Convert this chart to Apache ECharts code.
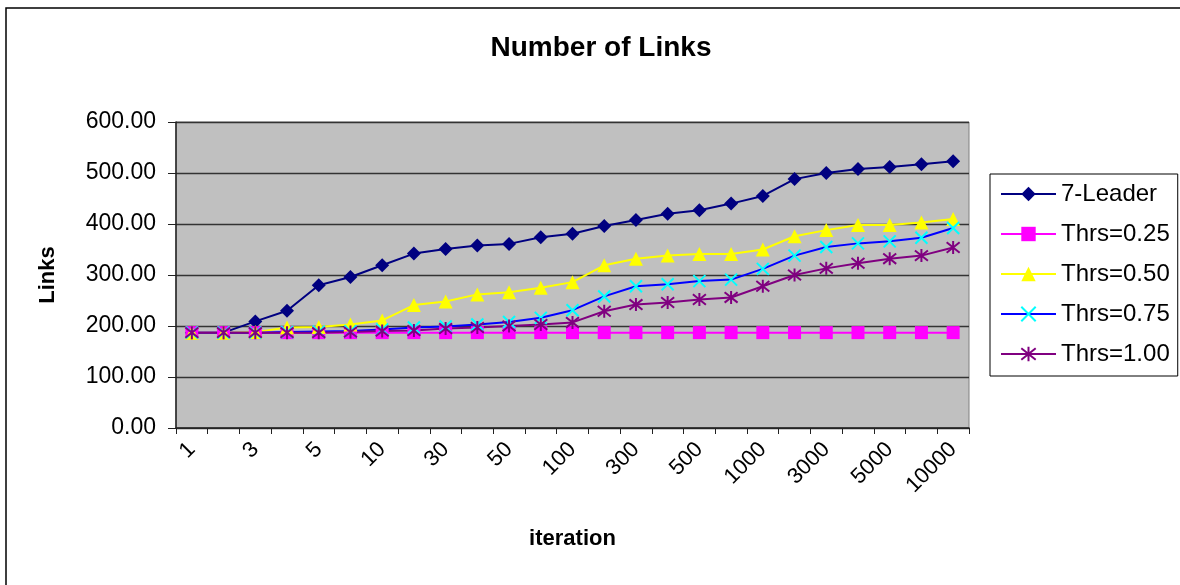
<!DOCTYPE html>
<html>
<head>
<meta charset="utf-8">
<script src="https://cdn.jsdelivr.net/npm/echarts@6/dist/echarts.min.js"></script>
<style>html,body{margin:0;padding:0;background:#fff}#c{width:1180px;height:585px}</style>
</head>
<body>
<div id="c"></div>
<script>
const categories = ['1','2','3','4','5','7','10','20','30','40','50','70','100','200','300','400','500','700','1000','2000','3000','4000','5000','7000','10000'];
const leader  = [187,187,209,230,280,296,319,342,351,358,361,374,381,396,408,420,427,440,455,488,500,508,512,517,523];
const thrs025 = [187,187,187,187,187,187,187,187,187,187,187,187,187,187,187,187,187,187,187,187,187,187,187,187,187];
const thrs050 = [187,187,188,197,198,203,211,241,248,262,266,275,286,319,332,338,341,341,350,376,388,398,398,403,410];
const thrs075 = [187,187,187,188,189,190,193,197,199,203,208,216,231,258,278,282,288,291,312,338,355,362,366,373,392];
const thrs100 = [187,187,187,187,187,188,190,191,195,197,200,203,207,229,242,246,252,256,278,300,313,323,332,338,354];
const seriesNames = ['7-Leader','Thrs=0.25','Thrs=0.50','Thrs=0.75','Thrs=1.00'];

const FONT = "'Liberation Sans', Arial, sans-serif";
const xPath = 'path://M0,0L10,10M10,0L0,10';
const starPath = 'path://M5,0L5,10M0,1L10,9M10,1L0,9';

const chart = echarts.init(document.getElementById('c'));
chart.setOption({
  backgroundColor: '#fff',
  animation: false,
  textStyle: { fontFamily: FONT },
  graphic: [{
    type: 'rect', shape: { x: 6, y: 8, width: 1200, height: 600 },
    style: { fill: 'none', stroke: '#000', lineWidth: 1.5 }, silent: true
  }],
  title: {
    text: 'Number of Links', left: 596, top: 29, textAlign: 'center',
    textStyle: { fontFamily: FONT, fontSize: 28, fontWeight: 'bold', color: '#000' }
  },
  legend: {
    orient: 'vertical', left: 990, top: 174,
    data: seriesNames,
    itemWidth: 55, itemHeight: 18, itemGap: 16,
    padding: [8, 8, 10, 10],
    borderColor: '#000', borderWidth: 1,
    backgroundColor: '#fff',
    textStyle: { fontFamily: FONT, fontSize: 24, color: '#000' }
  },
  grid: {
    left: 176, right: 211, top: 122, bottom: 157,
    show: true, backgroundColor: '#c0c0c0', borderColor: '#808080', borderWidth: 1
  },
  xAxis: {
    type: 'category', data: categories, boundaryGap: true,
    name: 'iteration', nameLocation: 'middle', nameGap: 100,
    nameTextStyle: { fontFamily: FONT, fontSize: 22, fontWeight: 'bold', color: '#000' },
    axisLine: { lineStyle: { color: '#222', width: 1.5 } },
    axisTick: { show: true, interval: 0, length: 6, lineStyle: { color: '#222' } },
    axisLabel: { interval: 1, rotate: 45, margin: 18, fontFamily: FONT, fontSize: 22, color: '#000' },
    splitLine: { show: false }
  },
  yAxis: {
    type: 'value', min: 0, max: 600, interval: 100,
    name: 'Links', nameLocation: 'middle', nameGap: 117,
    nameTextStyle: { fontFamily: FONT, fontSize: 22, fontWeight: 'bold', color: '#000' },
    axisLine: { show: true, lineStyle: { color: '#222', width: 1.5 } },
    axisTick: { show: true, length: 8, lineStyle: { color: '#222' } },
    axisLabel: { margin: 20, fontFamily: FONT, fontSize: 23, color: '#000', formatter: v => v.toFixed(2) },
    splitLine: { show: true, lineStyle: { color: '#333', width: 1.3 } }
  },
  series: [
    { name: seriesNames[0], type: 'line', data: leader, symbol: 'diamond', symbolSize: 14,
      lineStyle: { color: '#000080', width: 2 }, itemStyle: { color: '#000080' } },
    { name: seriesNames[1], type: 'line', data: thrs025, symbol: 'rect', symbolSize: 13,
      lineStyle: { color: '#ff00ff', width: 2 }, itemStyle: { color: '#ff00ff' } },
    { name: seriesNames[2], type: 'line', data: thrs050, symbol: 'triangle', symbolSize: 14,
      lineStyle: { color: '#ffff00', width: 2 }, itemStyle: { color: '#ffff00' } },
    { name: seriesNames[3], type: 'line', data: thrs075, symbol: xPath, symbolSize: 12,
      lineStyle: { color: '#0000ff', width: 2 }, itemStyle: { color: 'none', borderColor: '#00ffff', borderWidth: 2 } },
    { name: seriesNames[4], type: 'line', data: thrs100, symbol: starPath, symbolSize: 13,
      lineStyle: { color: '#800080', width: 2 }, itemStyle: { color: 'none', borderColor: '#800080', borderWidth: 2 } }
  ]
});
</script>
</body>
</html>
